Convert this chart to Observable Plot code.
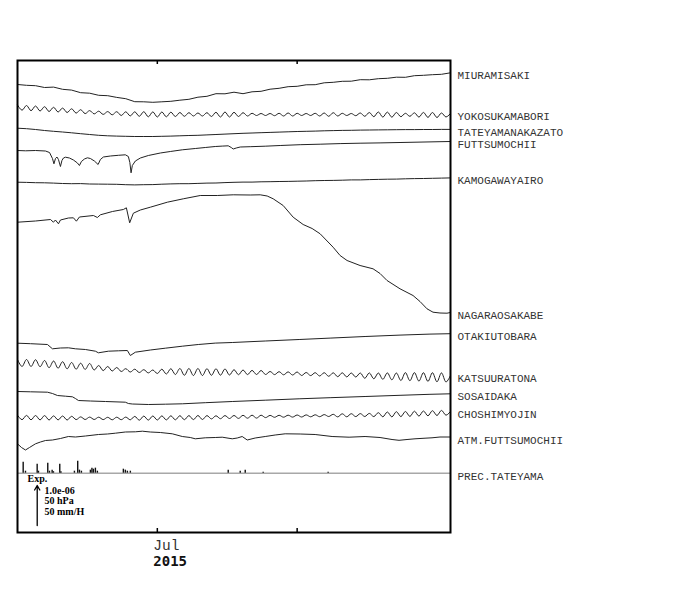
<!DOCTYPE html>
<html><head><meta charset="utf-8">
<script src="https://cdn.jsdelivr.net/npm/d3@7"></script>
<script src="https://cdn.jsdelivr.net/npm/@observablehq/plot@0.6"></script>
<style>body{margin:0;background:#fff}#chart{width:700px;height:590px}</style>
</head><body><div id="chart"></div>
<script>
// x = days since 2015-05-31; y = display units (40 units = 1.0e-06 / 50 hPa / 50 mm/H)
const stations = ["MIURAMISAKI","YOKOSUKAMABORI","TATEYAMANAKAZATO","FUTTSUMOCHII","KAMOGAWAYAIRO","NAGARAOSAKABE","OTAKIUTOBARA","KATSUURATONA","SOSAIDAKA","CHOSHIMYOJIN","ATM.FUTTSUMOCHII","PREC.TATEYAMA"];
const offsets = [448, 425, 404.3, 382, 350.3, 310.3, 189.3, 169.5, 141, 115, 88.7, 59.3];
const wavy = ["YOKOSUKAMABORI","KATSUURATONA","CHOSHIMYOJIN"];

const tickDays = [31, 62];
const tickLabels = ["Jul", ""];
const yearLabel = "2015";

// every 2 days
const miuramisaki = [0,-0.8,-1.2,-3,-2.6,-4.8,-5.6,-8.2,-8.7,-10.8,-11.2,-12.9,-14.2,-17.2,-17.3,-17.8,-17.3,-16.8,-15.7,-14.8,-12.7,-11.8,-9.2,-9.3,-7.7,-9.2,-7.3,-6.8,-4.7,-3.8,-2.2,-1.8,-0.3,-0.2,1.7,2.2,3.2,3.3,4.8,4.7,5.8,6.2,7.3,7.2,8.8,9.2,9.8,10.2,11.7];
// daily
const yokosukamabori = [2.5,-2.7,2,-3.2,1.5,-3.5,0.8,-4,0.2,-4.5,
-0.6,-5,-1.3,-5.6,-2.2,-6.1,-3.1,-6.4,-3.7,-6.9,
-4.1,-7.3,-4.2,-8,-4.3,-8.4,-4.3,-8.8,-4.2,-9.3,
-4.4,-9.5,-4.5,-9.3,-4.7,-9,-5,-8.8,-5.2,-8.5,
-5.5,-8.5,-5.2,-9,-4.8,-9.5,-4.5,-9.5,-4.8,-9,
-5.2,-8.5,-5.8,-8,-6,-8,-6,-8.2,-5.8,-8.5,
-5.5,-8.5,-5.8,-8,-6,-8,-5.8,-8.5,-5.5,-8.8,
-5.2,-8.5,-5.8,-8,-6,-8.2,-5.5,-8.8,-5,-9.2,
-4.5,-9.6,-4.6,-9.7,-5,-9.2,-5.8,-8.8,-5.3,-9.6,
-4.9,-9.9,-5,-10,-5.5,-9.5,-6];
// every 2 days
const tateyamanakazato = [0,-0.5,-1.3,-2.3,-3.1,-3.8,-4.6,-5.5,-6.3,-7.1,-7.6,-7.9,-8.1,-8.3,-8.3,-8.3,-8.1,-7.9,-7.6,-7.3,-7.1,-6.7,-6.3,-5.9,-5.5,-5.1,-4.8,-4.5,-4.2,-3.9,-3.6,-3.3,-3.1,-2.9,-2.6,-2.4,-2.2,-2.1,-1.9,-1.8,-1.7,-1.6,-1.5,-1.4,-1.4,-1.3,-1.3,-1.2,-1.2];
const futtsuDays = [0,1.8,4,6.2,7.1,7.75,8.08,8.42,8.75,9.08,9.52,9.85,10.19,10.63,11.51,12.4,13.29,13.73,14.17,14.84,15.5,16.16,17.05,17.87,18.38,19.04,20.59,22.36,23.91,24.58,24.91,25.18,25.46,26.13,27.24,29.01,31.67,33.88,36.54,39.42,41.63,43.84,45.39,46.72,47.39,47.83,48.49,49.38,51.59,54.92,58.24,62.67,67.1,71.53,75.95,80.38,84.81,89.24,93.67,96];
const futtsumochii = [0,-0.3,0,-0.5,-2,-8,-13.3,-8,-6.5,-9,-16,-10,-7.5,-6.7,-7.5,-9.5,-12.5,-15,-11,-8.5,-7.3,-8,-10.5,-14,-9,-6.5,-5.5,-4.8,-4.3,-6,-12,-22.3,-15,-10.5,-7.5,-5,-2.5,-1,0.7,2,3,4,4.4,4.7,3,1.5,2.5,3.5,3.8,4.3,5,5.8,6.3,6.9,7.3,7.6,8,8.4,8.8,9];
// every 2 days
const kamogawayairo = [0,-0.2,-0.5,-0.6,-0.9,-1.3,-1.5,-1.4,-1.8,-1.9,-2,-2.1,-2.5,-2.7,-2.5,-2.4,-2,-1.7,-1.5,-1.5,-1.2,-0.9,-0.8,-0.4,-0.1,0.1,0.1,0.4,0.5,0.7,0.8,1,1.2,1.5,1.7,1.8,2,2.3,2.3,2.6,2.8,3,3.1,3.4,3.6,3.7,3.9,4.1,4.3];
const nagaraDays = [0,3.99,7.31,7.97,8.41,9.08,9.52,11.29,12.4,13.06,13.73,16.83,17.71,18.38,21.04,23.47,24.14,24.87,25.69,27.24,29.45,33.22,36.76,40.52,44.29,47.83,51.59,53.81,55.36,56.69,58.9,61.12,63.33,65.32,67.1,69.97,71.52,73.07,75.95,78.83,80.38,81.93,84.81,87.69,89.24,90.79,92.12,93.67,95.22,96];
const nagaraosakabe = [0,1.2,2.7,0,2.2,-1.6,2.2,4.2,4.4,1,5.2,6.7,4.7,7.4,10.7,12.7,14.4,-0.6,9,12.2,15,20,23.4,26.7,26.7,27.4,27.2,27.4,26.2,23.4,16.7,5,-2.3,-6.3,-11.6,-25,-33.3,-38.3,-43.3,-46.6,-51.3,-58.3,-66.6,-73.3,-79.3,-86.6,-90,-90.8,-91,-90.3];
const otakiDays = [0,2.88,6.64,7.75,9.52,11.29,12.84,15.06,17.27,17.94,20.15,22.36,24.36,25.02,26.13,29.45,32.77,36.54,40.08,43.84,47.61,54.92,62.44,69.31,77.06,84.81,91.45,96];
const otakiutobara = [0,-0.5,-1.3,-5.6,-4.8,-4.6,-5.6,-6.3,-8,-9.6,-8,-7.6,-7.3,-12.3,-9,-6.8,-5,-3,-1.3,0.1,0.7,2.2,3.7,5.1,6.7,8.1,9.1,9.5];
// daily
const katsuuratona = [3.5,-3.5,3.5,-3.5,3.3,-3.7,2.5,-4.7,2,-5.2,
1.3,-5.8,0.5,-6.2,-0.2,-6.4,-0.5,-7,-2.5,-7.6,
-3.5,-8,-4.5,-8.5,-5.7,-9,-6.2,-9.5,-6.7,-9.9,
-7,-10.5,-6.2,-11,-5.7,-11.5,-5.5,-12.3,-5.5,-12.5,
-5.5,-12.5,-5.7,-12.3,-5.8,-12.2,-6,-12,-6.7,-11.7,
-7,-11.6,-7.4,-11.5,-7.5,-11.5,-8.5,-11.6,-8.7,-11.8,
-8.9,-12,-9,-12.5,-9.5,-12.6,-9.7,-13,-9.7,-13.3,
-9.8,-13.7,-9.8,-13.9,-10,-14,-10,-15.3,-9.9,-15.8,
-10,-16.3,-9.9,-16.8,-10,-17.5,-9.6,-17.7,-9.6,-18.1,
-9.7,-18.4,-9.7,-18.8,-9.9,-19,-12.5];
const sosaiDays = [0,2.88,6.64,7.75,8.86,10.63,12.18,12.84,13.51,16.16,19.49,23.91,24.58,25.46,29.01,32.77,36.54,41.63,47.61,54.92,62.44,69.31,77.06,84.81,91.45,96];
const sosaidaka = [0,-0.3,-0.7,-2,-4,-4.7,-5.3,-7,-9,-9.5,-10,-10.7,-12,-12.5,-13,-12.7,-12.3,-11.2,-10,-8.7,-7.3,-6.2,-5,-3.8,-2.8,-2.3];
// daily
const choshimyojin = [2.2,-2.2,2.1,-2.3,2,-2.4,1.9,-2.5,1.6,-2.4,
1.5,-2.5,1.2,-2.1,0.6,-2,0.4,-2,0.3,-2.1,
0.2,-2.3,0.3,-2.2,0.4,-2.3,1.1,-2.7,1.4,-2.6,
1.5,-2.5,1.6,-2.4,1.7,-2.3,1.8,-2.2,1.9,-2.1,
2,-2,1.9,-1.4,1.7,-1.2,1.9,-1,2,-0.9,
2.2,-0.7,2.3,-0.6,2.3,-0.1,2.1,0.2,2.2,0.3,
2.3,0.4,2.5,0.5,2.6,0.7,2.7,0.8,2.9,1,
3.2,0.6,3.7,0.7,3.8,0.9,3.9,1,4.1,0.9,
4.8,0.7,5.5,0.6,5.8,0.9,6,1.1,6.3,1.4,
6.5,1.7,6.8,2,7.1,2.3,6];
const atmDays = [0,0.89,1.77,2.66,3.99,5.09,6.2,7.75,9.52,11.29,12.84,15.06,17.94,19.93,21.7,23.91,26.13,27.68,29.45,31.67,34.32,36.54,38.31,39.42,41.63,43.84,45.39,47.61,48.72,49.82,50.93,52.7,54.92,57.13,59.35,62.67,65.99,69.75,73.52,77.06,80.38,83.04,84.59,86.36,88.13,90.35,91.9,93.67,96];
const atmFuttsumochii = [0,-3.7,-6.2,-3.7,0,1.8,3.3,3.8,5.3,7.3,6.8,7.8,9.3,9.8,10.6,11.8,12,12.6,11.8,11.3,10,7.3,6.3,5,6,6.3,6.6,5,5.8,7.3,3.8,5.8,7.3,8.8,10,9.8,9.3,7.3,6.6,7.3,6.3,4.3,3.5,4.3,5,5.6,6,6.8,6.8];
const precipDays = [1.26,1.77,4.36,4.65,6.71,7.09,7.68,7.97,9.37,9.63,12.62,13.35,13.73,14.17,16.16,16.5,16.83,17.27,17.71,23.47,23.91,24.36,25.02,46.72,49.38,50.49,54.47,68.87];
const precipMmH = [13.8,2.5,11.3,2.5,12.5,2.5,3.8,1.9,11.3,1.9,2.5,15,3.8,2.5,3.8,6.3,5,6.3,2.5,5,3.8,2.5,2.5,3.8,2.5,3.8,1.3,1.3];
const unitsPerMm = 0.8;

const scaleTexts = ["1.0e-06", "50 hPa", "50 mm/H"];
const scaleBar = [{day: 4.37, base: 7, length: 40}];

// build table
const rows = [];
function addStep(idx, vals, step) { vals.forEach((v, i) => rows.push({name: stations[idx], day: i * step, v: offsets[idx] + v})); }
function addPairs(idx, days, vals) { vals.forEach((v, i) => rows.push({name: stations[idx], day: days[i], v: offsets[idx] + v})); }
addStep(0, miuramisaki, 2);
addStep(1, yokosukamabori, 1);
addStep(2, tateyamanakazato, 2);
addPairs(3, futtsuDays, futtsumochii);
addStep(4, kamogawayairo, 2);
addPairs(5, nagaraDays, nagaraosakabe);
addPairs(6, otakiDays, otakiutobara);
addStep(7, katsuuratona, 1);
addPairs(8, sosaiDays, sosaidaka);
addStep(9, choshimyojin, 1);
addPairs(10, atmDays, atmFuttsumochii);

const smoothRows = rows.filter(d => !wavy.includes(d.name));
const wavyRows = rows.filter(d => wavy.includes(d.name));

const precOffset = offsets[11];
const precip = precipDays.map((d, i) => ({day: d, y1: precOffset, y2: precOffset + precipMmH[i] * unitsPerMm}));

const lastPoints = stations.slice(0, 11).map(n => { const r = rows.filter(d => d.name === n); return r[r.length - 1]; });
lastPoints.push({name: stations[11], day: 96, v: precOffset});

const ticks = tickDays.map((d, i) => ({day: d, label: tickLabels[i]}));
const mono = "'Liberation Mono', 'DejaVu Sans Mono', monospace";
const serif = "'Liberation Serif', 'DejaVu Serif', serif";

const chart = Plot.plot({
  width: 700, height: 590,
  marginLeft: 17, marginRight: 250, marginTop: 60, marginBottom: 58,
  x: {domain: [0, 96], axis: null},
  y: {domain: [0, 472], axis: null},
  style: {background: "white", overflow: "visible"},
  marks: [
    Plot.ruleY([precOffset], {stroke: "#a8a8a8", strokeWidth: 1.5}),
    Plot.ruleX(precip, {x: "day", y1: "y1", y2: "y2", stroke: "#111", strokeWidth: 1.4}),
    Plot.line(smoothRows, {x: "day", y: "v", z: "name", stroke: "#222", strokeWidth: 1, curve: "linear"}),
    Plot.line(wavyRows, {x: "day", y: "v", z: "name", stroke: "#222", strokeWidth: 1, curve: "catmull-rom"}),
    Plot.text(lastPoints, {x: "day", y: "v", text: "name", textAnchor: "start", dx: 7, dy: 3, fontFamily: mono, fontSize: 11, fill: "#333"}),
    Plot.frame({stroke: "#000", strokeWidth: 2}),
    Plot.ruleX(tickDays, {y1: 472, y2: 468, stroke: "#000", strokeWidth: 1.5}),
    Plot.ruleX(tickDays, {y1: 0, y2: 4, stroke: "#000", strokeWidth: 1.5}),
    Plot.text(ticks, {x: "day", text: "label", frameAnchor: "bottom", textAnchor: "start", dx: -4, dy: 13, lineAnchor: "middle", fontFamily: mono, fontSize: 14.5, fill: "#333"}),
    Plot.text([yearLabel], {x: tickDays[0], frameAnchor: "bottom", textAnchor: "start", dx: -4, dy: 29, lineAnchor: "middle", fontFamily: "'DejaVu Sans Mono', monospace", fontWeight: "bold", fontSize: 14, fill: "#111"}),
    Plot.text(["Exp."], {frameAnchor: "bottom-left", textAnchor: "start", dx: 10, dy: -54, lineAnchor: "middle", fontFamily: serif, fontWeight: "bold", fontSize: 10, fill: "#000"}),
    Plot.text([scaleTexts[0]], {frameAnchor: "bottom-left", textAnchor: "start", dx: 27, dy: -42, lineAnchor: "middle", fontFamily: serif, fontWeight: "bold", fontSize: 10, fill: "#000"}),
    Plot.text([scaleTexts[1]], {frameAnchor: "bottom-left", textAnchor: "start", dx: 27, dy: -31.5, lineAnchor: "middle", fontFamily: serif, fontWeight: "bold", fontSize: 10, fill: "#000"}),
    Plot.text([scaleTexts[2]], {frameAnchor: "bottom-left", textAnchor: "start", dx: 27, dy: -21, lineAnchor: "middle", fontFamily: serif, fontWeight: "bold", fontSize: 10, fill: "#000"}),
    Plot.arrow(scaleBar, {x1: "day", x2: "day", y1: "base", y2: d => d.base + d.length, stroke: "#000", strokeWidth: 1.3, headLength: 6})
  ]
});
document.getElementById("chart").appendChild(chart);
</script>
</body></html>
